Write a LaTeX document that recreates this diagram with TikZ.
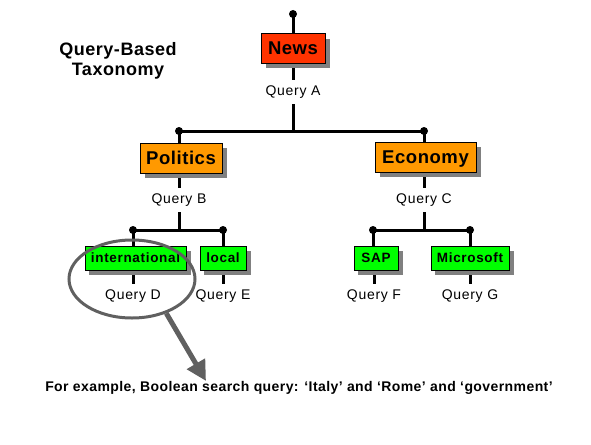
\documentclass[tikz,border=0pt]{standalone}
\usepackage{fontspec}
\setmainfont{Liberation Sans}
\usetikzlibrary{shadows,arrows.meta,shapes.geometric}
\definecolor{newsred}{HTML}{FF3300}
\definecolor{catorange}{HTML}{FF9900}
\definecolor{leafgreen}{HTML}{00FF00}
\definecolor{shadowgray}{HTML}{808080}
\definecolor{ellgray}{HTML}{606060}
\pgfdeclarelayer{background}
\pgfsetlayers{background,main}
\tikzset{
  boxbase/.style={draw=black, line width=1pt, inner sep=0pt, text depth=0pt,
    general shadow={fill=shadowgray, shadow xshift=5pt, shadow yshift=-5pt}},
  bigbox/.style={boxbase, minimum height=30pt,
    font=\bfseries\fontsize{18.5}{20}\selectfont\addfontfeature{LetterSpace=3}},
  gbox/.style={boxbase, fill=leafgreen, minimum height=24pt,
    general shadow={fill=shadowgray, shadow xshift=4pt, shadow yshift=-5pt},
    font=\bfseries\fontsize{13.5}{16}\selectfont\addfontfeature{LetterSpace=5}},
  qlab/.style={inner sep=0pt, minimum height=24pt,
    font=\fontsize{14}{16}\selectfont\addfontfeature{LetterSpace=5}},
  dotn/.style={circle, fill=black, inner sep=0pt, minimum size=8pt},
  conn/.style={line width=3pt},
  ellring/.style={ellipse, draw=ellgray, line width=3pt, inner sep=0pt},
  pointer/.style={draw=ellgray, line width=5pt, -{Triangle[length=20pt,width=20pt]}}
}
\begin{document}
\begin{tikzpicture}[x=1pt,y=-1pt]
\useasboundingbox (0,0) rectangle (591,444);
% title
\node[align=center, font=\bfseries\fontsize{18}{20.5}\selectfont\addfontfeature{LetterSpace=3}] (title) at (118,61) {Query-Based\\Taxonomy};
% level 0
\node[dotn] (d0) at (293,14) {};
\node[bigbox, fill=newsred, minimum width=64pt, minimum height=29pt] (news) at (293,48.5) {News};
\node[qlab] (qa) at (293,92) {Query A};
\coordinate (ja) at (293,131);
\node[dotn] (dl) at (179,131) {};
\node[dotn] (dr) at (424,131) {};
% level 1
\node[bigbox, fill=catorange, minimum width=82pt] (pol) at (181,158) {Politics};
\node[bigbox, fill=catorange, minimum width=101pt] (eco) at (425.5,157) {Economy};
\node[qlab] (qb) at (179,200) {Query B};
\node[qlab] (qc) at (424,200) {Query C};
\coordinate (jb) at (179,230);
\coordinate (jc) at (424,230);
\node[dotn] (d1) at (133,230) {};
\node[dotn] (d2) at (223,230) {};
\node[dotn] (d3) at (373,230) {};
\node[dotn] (d4) at (470,230) {};
% level 2
\node[gbox, minimum width=101pt] (intl) at (135.5,258) {international};
\node[gbox, minimum width=46pt] (loc) at (223,258) {local};
\node[gbox, minimum width=44pt] (sap) at (376,258) {SAP};
\node[gbox, minimum width=78pt] (ms) at (470,258) {Microsoft};
\node[qlab] (qd) at (133,296.5) {Query D};
\node[qlab] (qe) at (223,296.5) {Query E};
\node[qlab] (qf) at (374,296.5) {Query F};
\node[qlab] (qg) at (470,296.5) {Query G};
% connectors
\begin{pgfonlayer}{background}
\draw[conn] (d0.center) -- (d0.center |- news.north);
\draw[conn] (news.south) -- (qa.north);
\draw[conn] (qa.south) -- (ja);
\draw[conn] (dl.center) -- (dr.center);
\draw[conn] (dl.center) -- (dl.center |- pol.north);
\draw[conn] (dr.center) -- (dr.center |- eco.north);
\draw[conn] (qb.north |- pol.south) -- (qb.north);
\draw[conn] (qb.south) -- (jb);
\draw[conn] (qc.north |- eco.south) -- (qc.north);
\draw[conn] (qc.south) -- (jc);
\draw[conn] (d1.center) -- (d2.center);
\draw[conn] (d3.center) -- (d4.center);
\draw[conn] (d1.center) -- (d1.center |- intl.north);
\draw[conn] (d2.center) -- (d2.center |- loc.north);
\draw[conn] (d3.center) -- (d3.center |- sap.north);
\draw[conn] (d4.center) -- (d4.center |- ms.north);
\draw[conn] (qd.north |- intl.south) -- (qd.north);
\draw[conn] (qe.north |- loc.south) -- (qe.north);
\draw[conn] (qf.north |- sap.south) -- (qf.north);
\draw[conn] (qg.north |- ms.south) -- (qg.north);
\end{pgfonlayer}
% highlight
\node[ellring, minimum width=126pt, minimum height=78pt] (ell) at (132,279) {};
\coordinate (tip) at (206,381);
\draw[pointer] (ell.-45) -- (tip);
\node[font=\bfseries\fontsize{14}{16}\selectfont\addfontfeature{LetterSpace=3}] (ex) at (299,388) {For example, Boolean search query: `Italy' and `Rome' and `government'};
\end{tikzpicture}
\end{document}
